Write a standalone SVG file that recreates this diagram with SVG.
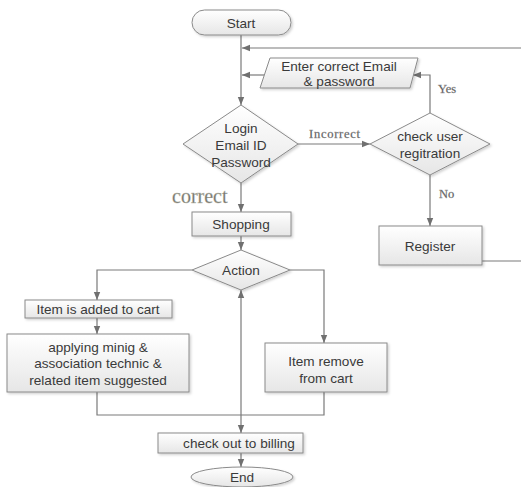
<svg xmlns="http://www.w3.org/2000/svg" width="521" height="487" viewBox="0 0 521 487">
  <defs>
    <linearGradient id="fillGrad" x1="0" y1="0" x2="0" y2="1">
      <stop offset="0" stop-color="#ffffff"/>
      <stop offset="1" stop-color="#e6e6e6"/>
    </linearGradient>
    <marker id="arrow" viewBox="0 0 10 10" refX="10" refY="5" markerWidth="8" markerHeight="8" markerUnits="userSpaceOnUse" orient="auto">
      <path d="M0,1 L10,5 L0,9 Z" fill="#707070"/>
    </marker>
    <filter id="shadow" x="-10%" y="-10%" width="130%" height="140%">
      <feDropShadow dx="1.5" dy="1.5" stdDeviation="1" flood-color="#000" flood-opacity="0.18"/>
    </filter>
  </defs>
  <style>
    .shape { fill: url(#fillGrad); stroke: #8a8a8a; stroke-width: 1; filter: url(#shadow); }
    .label { font-family: "Liberation Sans", Arial, sans-serif; font-size: 13.6px; fill: #3a3a3a; text-anchor: middle; }
    .edge { fill: none; stroke: #7a7a7a; stroke-width: 1.2; }
    .tag { font-family: "Liberation Serif", "Times New Roman", serif; font-size: 12.5px; fill: #4a4a4a; stroke: #9a9a9a; stroke-width: 0.3; }
  </style>
  <rect width="521" height="487" fill="#ffffff"/>

  <!-- connectors -->
  <g id="connectors">
    <line class="edge" x1="241" y1="35" x2="241" y2="105" marker-end="url(#arrow)"/>
    <line class="edge" x1="521" y1="48" x2="242" y2="48" marker-end="url(#arrow)"/>
    <line class="edge" x1="265" y1="75" x2="242" y2="75" marker-end="url(#arrow)"/>
    <polyline class="edge" points="430,113 430,75 413,75" marker-end="url(#arrow)"/>
    <line class="edge" x1="298" y1="144" x2="370" y2="144" marker-end="url(#arrow)"/>
    <line class="edge" x1="430" y1="175" x2="430" y2="226" marker-end="url(#arrow)"/>
    <line class="edge" x1="482" y1="261" x2="521" y2="261"/>
    <line class="edge" x1="241" y1="183" x2="241" y2="212" marker-end="url(#arrow)"/>
    <line class="edge" x1="241" y1="236" x2="241" y2="250" marker-end="url(#arrow)"/>
    <polyline class="edge" points="192,270 97,270 97,300" marker-end="url(#arrow)"/>
    <line class="edge" x1="97" y1="318" x2="97" y2="334" marker-end="url(#arrow)"/>
    <polyline class="edge" points="290,270 324,270 324,343" marker-end="url(#arrow)"/>
    <polyline class="edge" points="97,392 97,415 324,415 324,392"/>
    <line class="edge" x1="241" y1="415" x2="241" y2="290" marker-end="url(#arrow)"/>
    <line class="edge" x1="241" y1="415" x2="241" y2="433" marker-end="url(#arrow)"/>
    <line class="edge" x1="241" y1="453" x2="241" y2="467" marker-end="url(#arrow)"/>
    <text class="tag" x="309" y="138" textLength="51">Incorrect</text>
    <text class="tag" x="438" y="93">Yes</text>
    <text class="tag" x="439" y="198">No</text>
    <text x="172" y="203" font-family="'Liberation Serif', 'Times New Roman', serif" font-size="20" fill="#707068" stroke="#bdbdb0" stroke-width="0.4">correct</text>
  </g>

  <g id="start">
    <rect class="shape" x="192" y="10" width="99" height="25" rx="12.5" ry="12.5"/>
    <text class="label" x="241" y="28">Start</text>
  </g>

  <g id="enter-credentials">
    <polygon class="shape" points="270,58 418,58 410,88 260,88"/>
    <text class="label" x="339" y="71">Enter correct Email</text>
    <text class="label" x="339" y="86">&amp; password</text>
  </g>

  <g id="login">
    <polygon class="shape" points="241,105 298,144 241,183 183,144"/>
    <text class="label" x="241" y="133">Login</text>
    <text class="label" x="241" y="150">Email ID</text>
    <text class="label" x="241" y="167">Password</text>
  </g>

  <g id="check-registration">
    <polygon class="shape" points="430,113 490,144 430,175 370,144"/>
    <text class="label" x="430" y="141">check user</text>
    <text class="label" x="430" y="158">regitration</text>
  </g>

  <g id="register">
    <rect class="shape" x="379" y="226" width="103" height="39"/>
    <text class="label" x="430" y="251">Register</text>
  </g>

  <g id="shopping">
    <rect class="shape" x="192" y="212" width="99" height="24"/>
    <text class="label" x="241" y="229">Shopping</text>
  </g>

  <g id="action">
    <polygon class="shape" points="241,250 290,270 241,290 192,270"/>
    <text class="label" x="241" y="275">Action</text>
  </g>

  <g id="add-to-cart">
    <rect class="shape" x="25" y="300" width="147" height="18"/>
    <text class="label" x="98" y="314">Item is added to cart</text>
  </g>

  <g id="mining">
    <rect class="shape" x="7" y="334" width="182" height="58"/>
    <text class="label" x="98" y="352">applying minig &amp;</text>
    <text class="label" x="98" y="368">association technic &amp;</text>
    <text class="label" x="98" y="385">related item suggested</text>
  </g>

  <g id="remove-from-cart">
    <rect class="shape" x="265" y="343" width="122" height="49"/>
    <text class="label" x="326" y="366">Item remove</text>
    <text class="label" x="326" y="383">from cart</text>
  </g>

  <g id="checkout">
    <rect class="shape" x="158" y="433" width="145" height="20"/>
    <text class="label" x="239" y="448">check out to billing</text>
  </g>

  <g id="end">
    <ellipse class="shape" cx="242" cy="477" rx="51" ry="10"/>
    <text class="label" x="242" y="482">End</text>
  </g>
</svg>
